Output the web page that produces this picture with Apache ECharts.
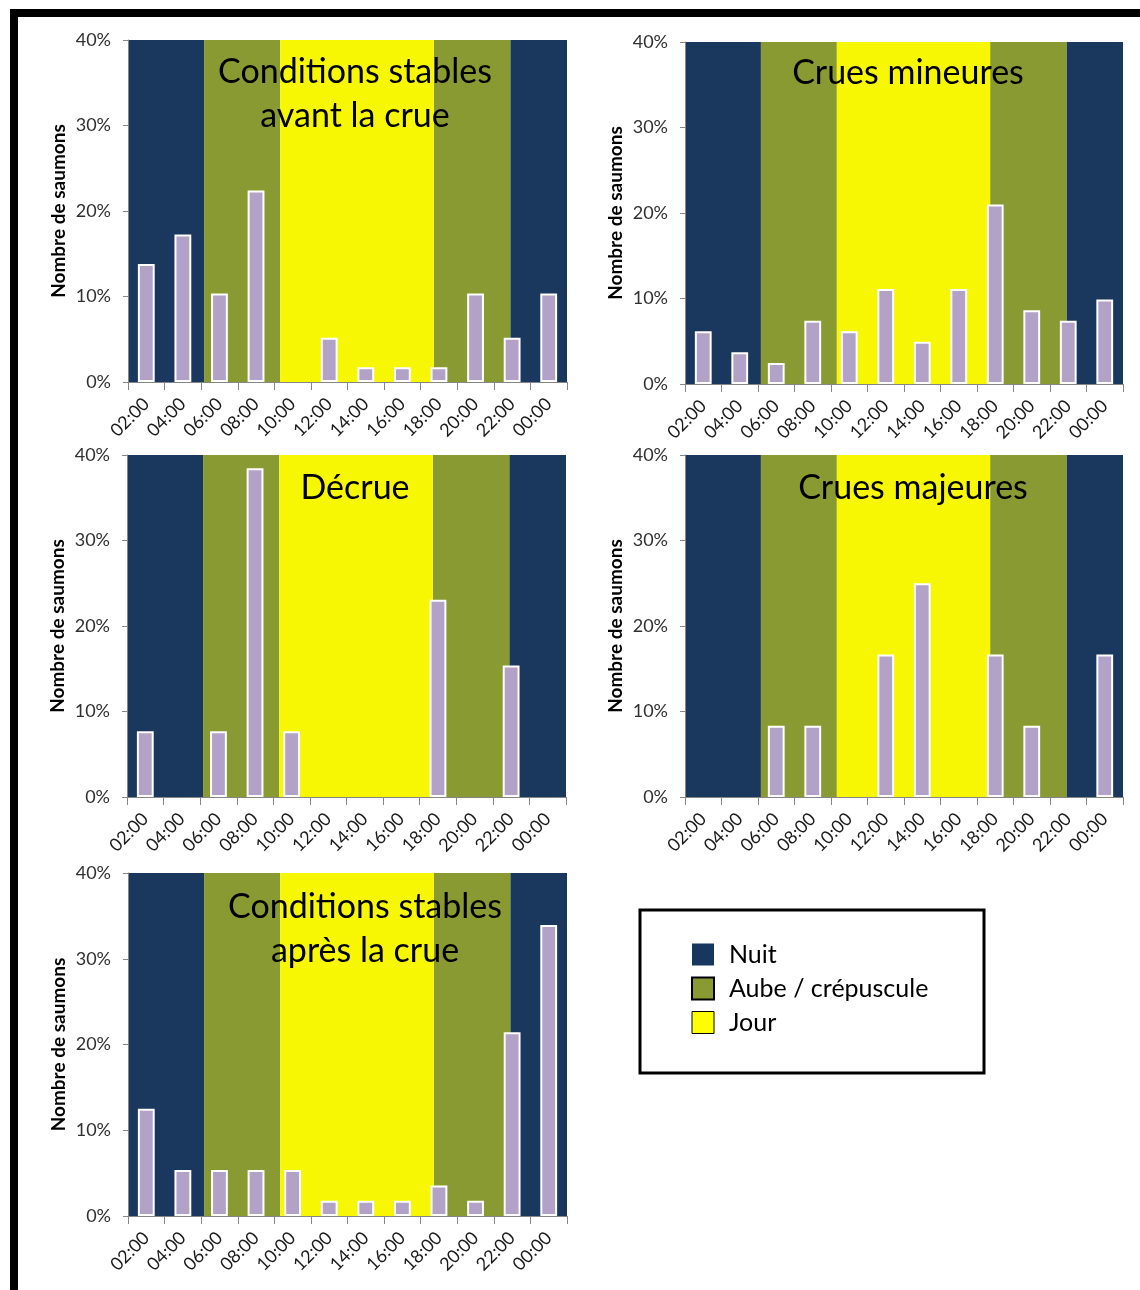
<!DOCTYPE html>
<html>
<head>
<meta charset="utf-8">
<script src="https://cdn.jsdelivr.net/npm/echarts@6/dist/echarts.min.js"></script>
<style>
html,body{margin:0;padding:0;background:#fff;}
#main{width:1140px;height:1290px;}
</style>
</head>
<body>
<div id="main"></div>
<script>
// ---- Data ----
const categories = ['02:00','04:00','06:00','08:00','10:00','12:00','14:00','16:00','18:00','20:00','22:00','00:00'];
const avantCrue     = [13.79, 17.24, 10.34, 22.41, 0, 5.17, 1.72, 1.72, 1.72, 10.34, 5.17, 10.34];
const cruesMineures = [6.17, 3.70, 2.47, 7.41, 6.17, 11.11, 4.94, 11.11, 20.99, 8.64, 7.41, 9.88];
const decrue        = [7.69, 0, 7.69, 38.46, 7.69, 0, 0, 0, 23.08, 0, 15.38, 0];
const cruesMajeures = [0, 0, 8.33, 8.33, 0, 16.67, 25, 0, 16.67, 8.33, 0, 16.67];
const apresCrue     = [12.5, 5.36, 5.36, 5.36, 5.36, 1.79, 1.79, 1.79, 3.57, 1.79, 21.43, 33.93];
const panelTitles = ['Conditions stables\navant la crue', 'Crues mineures', 'Décrue', 'Crues majeures', 'Conditions stables\naprès la crue'];
const yTicks = [0, 10, 20, 30, 40];
// band edges in category units (0..12) and their kind
const bandEdges = [0, 2.08, 4.16, 8.36, 10.45, 12];
const bandKinds = ['Nuit', 'Aube / crépuscule', 'Jour', 'Aube / crépuscule', 'Nuit'];
const legendNames = ['Nuit', 'Aube / crépuscule', 'Jour'];

// ---- Styles ----
const FONT = 'Lato';
const colors = {'Nuit': '#1A375E', 'Aube / crépuscule': '#8A9A32', 'Jour': '#F7F704'};
const legendColors = {'Nuit': '#17375E', 'Aube / crépuscule': '#8A9A32', 'Jour': '#FFFF00'};
const panelData = [avantCrue, cruesMineures, decrue, cruesMajeures, apresCrue];
const grids = [
  {left: 128, top: 40, width: 439, height: 342},
  {left: 685, top: 42, width: 438, height: 342},
  {left: 127, top: 455, width: 439, height: 342},
  {left: 685, top: 455, width: 438, height: 342},
  {left: 128, top: 873, width: 439, height: 343}
];
const titlePos = [
  {x: 355, y: 50}, {x: 908, y: 51}, {x: 355, y: 466}, {x: 913, y: 466}, {x: 365, y: 885}
];

const xAxes = [], yAxes = [], series = [], titles = [];
grids.forEach((g, i) => {
  xAxes.push({
    type: 'category', gridIndex: i, data: categories, z: 5,
    axisLine: {lineStyle: {color: '#868686', width: 1}},
    axisTick: {show: true, length: 8, lineStyle: {color: '#868686'}},
    axisLabel: {rotate: 45, color: '#1A1A1A', fontFamily: FONT, fontSize: 18, margin: 19, interval: 0}
  });
  xAxes.push({type: 'value', gridIndex: i, min: 0, max: 12, show: false});
  yAxes.push({
    type: 'value', gridIndex: i, min: 0, max: 40, interval: 10, z: 5,
    name: 'Nombre de saumons', nameLocation: 'middle', nameGap: 60,
    nameTextStyle: {fontFamily: FONT, fontSize: 19, fontWeight: 'bold', color: '#000'},
    axisLine: {show: true, lineStyle: {color: '#868686'}},
    axisTick: {show: true, length: 5, lineStyle: {color: '#868686'}},
    axisLabel: {formatter: '{value}%', color: '#303030', fontFamily: FONT, fontSize: 18, margin: 17},
    splitLine: {show: false}
  });
  legendNames.forEach(name => {
    const d = [];
    bandKinds.forEach((k, j) => { if (k === name) d.push([bandEdges[j], bandEdges[j + 1], 0]); });
    series.push({
      type: 'custom', name: name, xAxisIndex: i * 2 + 1, yAxisIndex: i, z: 1,
      encode: {x: [0, 1], y: 2}, silent: true,
      itemStyle: {color: colors[name]},
      data: d,
      renderItem: (params, api) => {
        const p0 = api.coord([api.value(0), 40]);
        const p1 = api.coord([api.value(1), 0]);
        return {type: 'rect', shape: {x: p0[0], y: p0[1], width: p1[0] - p0[0], height: p1[1] - p0[1]},
                style: {fill: colors[name]}};
      }
    });
  });
  series.push({
    type: 'bar', name: 'Saumons', xAxisIndex: i * 2, yAxisIndex: i, z: 3,
    barWidth: '46%',
    data: panelData[i].map(v => v === 0 ? {value: 0, itemStyle: {borderWidth: 0}} : v),
    itemStyle: {color: '#B3A2C7', borderColor: '#FFFFFF', borderWidth: 2}
  });
  titles.push({
    text: panelTitles[i], left: titlePos[i].x, top: titlePos[i].y, textAlign: 'center', padding: 0,
    textStyle: {fontFamily: FONT, fontSize: 34, fontWeight: 'normal', color: '#000', lineHeight: 44}
  });
});

const chart = echarts.init(document.getElementById('main'), null, {renderer: 'canvas'});
chart.setOption({
  animation: false,
  backgroundColor: '#fff',
  title: titles,
  grid: grids,
  xAxis: xAxes,
  yAxis: yAxes,
  series: series,
  legend: {
    data: legendNames.map(n => ({
      name: n, icon: 'rect',
      itemStyle: {color: legendColors[n], borderColor: n === 'Nuit' ? legendColors[n] : '#000', borderWidth: n === 'Aube / crépuscule' ? 2 : (n === 'Jour' ? 1 : 0)}
    })),
    orient: 'vertical', left: 691, top: 942, itemWidth: 22, itemHeight: 22, itemGap: 9, padding: 0,
    selectedMode: false,
    textStyle: {fontFamily: FONT, fontSize: 25, color: '#000', padding: [0, 0, 0, 10]}
  },
  graphic: [
    {type: 'rect', shape: {x: 14, y: 13, width: 1300, height: 1400}, style: {fill: 'none', stroke: '#000', lineWidth: 8}, z: 10},
    {type: 'rect', shape: {x: 640, y: 910, width: 344, height: 163}, style: {fill: 'none', stroke: '#000', lineWidth: 3}, z: 10}
  ]
});
</script>
</body>
</html>
